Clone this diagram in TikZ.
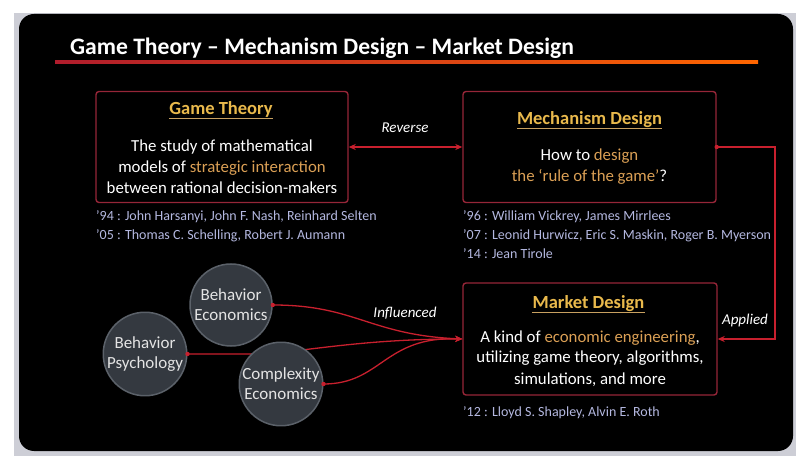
\documentclass[tikz,border=0pt]{standalone}
\usepackage{fontspec}
\setmainfont{Carlito}
\usetikzlibrary{arrows.meta}
\definecolor{slidebg}{HTML}{000000}
\definecolor{framegray}{HTML}{CDCED6}
\definecolor{boxred}{HTML}{962638}
\definecolor{titlered}{HTML}{B01C2C}
\definecolor{linered}{HTML}{C8202E}
\definecolor{gold}{HTML}{E9B94C}
\definecolor{goldline}{HTML}{C8A060}
\definecolor{hilite}{HTML}{DBA055}
\definecolor{namecol}{HTML}{B4B8E0}
\definecolor{circfill}{HTML}{343940}
\definecolor{circrim}{HTML}{5B6169}
\definecolor{circtext}{HTML}{E4E4E4}
\tikzset{
  boxnode/.style={draw=boxred, line width=1.4pt, fill=black, rectangle, rounded corners=3pt, inner sep=0pt},
  boxtitle/.style={text=gold, font=\bfseries\fontsize{18.5}{22}\selectfont, inner sep=0pt},
  boxbody/.style={text=white, align=center, font=\fontsize{16.8}{21}\selectfont, inner sep=0pt},
  namelist/.style={text=namecol, align=left, font=\fontsize{14}{19}\selectfont, inner sep=0pt, anchor=base west},
  circnode/.style={circle, fill=circfill, draw=circrim, line width=1.5pt, minimum size=82pt, inner sep=0pt,
     text=circtext, align=center, font=\fontsize{17}{20}\selectfont},
  conn/.style={draw=linered, line width=1.3pt},
  arrowtip/.style={-{Stealth[length=7pt,width=6pt]}},
  lbl/.style={text=white, font=\itshape\fontsize{15}{16}\selectfont, inner sep=0pt},
}
\begin{document}
\begin{tikzpicture}[x=1pt,y=-1pt]
\useasboundingbox (0,0) rectangle (806,462);
\fill[white] (0,0) rectangle (806,462);
\fill[framegray] (14,13) rectangle (796,456);
\fill[slidebg, rounded corners=15pt] (19,14) rectangle (793,451);

% title
\node[text=white, font=\bfseries\fontsize{23.6}{26}\selectfont, anchor=base west, inner sep=0pt] (title) at (70,55)
  {Game Theory -- Mechanism Design -- Market Design};
\shade[left color=titlered, right color=orange!80!red] (55,60.5) rectangle (758,63.5);

% boxes
\node[boxnode, minimum width=252pt, minimum height=111pt] (gt) at (222,147) {};
\node[boxnode, minimum width=253pt, minimum height=111pt] (md) at (589.5,147) {};
\node[boxnode, minimum width=254pt, minimum height=112pt] (mkt) at (590,339) {};

% box texts
\node[boxtitle, anchor=base] (gtt) at (221,115) {Game Theory};
\draw[goldline, line width=1pt] ([yshift=-4pt]gtt.base west) -- ([yshift=-4pt]gtt.base east);
\node[boxbody, anchor=base] (gtb) at (222,194) {The study of mathematical\\models of \textcolor{hilite}{strategic interaction}\\between rational decision-makers};

\node[boxtitle, anchor=base] (mdt) at (589.5,125) {Mechanism Design};
\draw[goldline, line width=1pt] ([yshift=-4pt]mdt.base west) -- ([yshift=-4pt]mdt.base east);
\node[boxbody, anchor=base] (mdb) at (589.5,182) {How to \textcolor{hilite}{design}\\\textcolor{hilite}{the `rule of the game'}?};

\node[boxtitle, anchor=base] (mktt) at (588.5,309) {Market Design};
\draw[goldline, line width=1pt] ([yshift=-4pt]mktt.base west) -- ([yshift=-4pt]mktt.base east);
\node[boxbody, anchor=base] (mktb) at (590,384) {A kind of \textcolor{hilite}{economic engineering},\\utilizing game theory, algorithms,\\simulations, and more};

% name lists
\node[namelist] (gtn1) at (96,221) {'94 : John Harsanyi, John F. Nash, Reinhard Selten};
\node[namelist] (gtn2) at (96,240) {'05 : Thomas C. Schelling, Robert J. Aumann};
\node[namelist] (mdn1) at (463,221) {'96 : William Vickrey, James Mirrlees};
\node[namelist] (mdn2) at (463,240) {'07 : Leonid Hurwicz, Eric S. Maskin, Roger B. Myerson};
\node[namelist] (mdn3) at (463,259) {'14 : Jean Tirole};
\node[namelist] (mktn) at (463,416) {'12 : Lloyd S. Shapley, Alvin E. Roth};

% reverse arrow
\draw[conn, {Stealth[length=7pt,width=6pt]}-{Stealth[length=7pt,width=6pt]}] (gt.east) -- (md.west);
\node[lbl] (rev) at (405,128) {Reverse};

% applied connector
\coordinate (apA) at (775,147);
\coordinate (apB) at (775,339);
\fill[linered] (md.east) circle (2.2pt);
\draw[conn, arrowtip] (md.east) -- (apA) -- (apB) -- (mkt.east);
\node[lbl] (app) at (745,321) {Applied};

% circles and influence connectors
\node[circnode] (bp) at (145,354) {Behavior\\Psychology};
\node[circnode] (be) at (231,305) {Behavior\\Economics};
\draw[conn, arrowtip] (bp.east) -- ++(63,0) .. controls +(45,0) and +(-110,0) .. (mkt.west);
\node[circnode] (ce) at (281,384) {Complexity\\Economics};
\draw[conn, arrowtip] (be.east) .. controls +(83,0) and +(-93,-4) .. (mkt.west);
\draw[conn, arrowtip] (ce.east) .. controls +(58,0) and +(-78,-3) .. (mkt.west);
\fill[linered] (be.east) circle (2.2pt);
\fill[linered] (bp.east) circle (2.2pt);
\fill[linered] (ce.east) circle (2.2pt);
\node[lbl] (inf) at (405,313) {Influenced};
\end{tikzpicture}
\end{document}
